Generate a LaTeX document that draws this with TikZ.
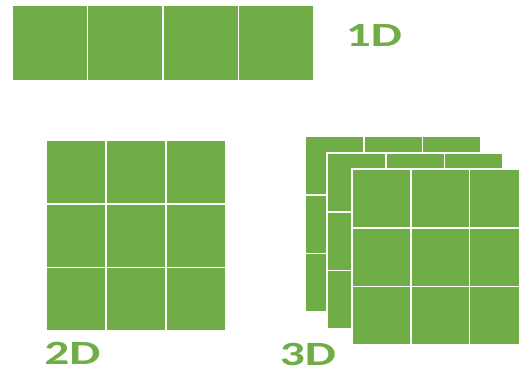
\documentclass[tikz,border=0pt]{standalone}
\usepackage{fontspec}
\newfontfamily\dimfont{Carlito}
\usetikzlibrary{positioning}
\definecolor{cellgreen}{HTML}{70AD47}

\tikzset{
  cell/.style={fill=cellgreen, draw=white, line width=1.6pt},
  dimlabel/.style={text=cellgreen, inner sep=0pt, xscale=1.45,
    font=\dimfont\bfseries\fontsize{34}{34}\selectfont}
}

\begin{document}
\begin{tikzpicture}[x=1pt,y=-1pt]
  \useasboundingbox (0,0) rectangle (519,378);
  \clip (0,0) rectangle (519,378);
  % 1D row
  \foreach \i in {0,...,3}
    \draw[cell] (12+75.5*\i,5) rectangle ++(75.5,76);
  \node[dimlabel] (lab1d) at (374,35) {1D};
  % 2D grid
  \foreach \i in {0,1,2}
    \foreach \j in {0,1,2}
      \draw[cell] (46+60*\i,140+63.7*\j) rectangle ++(60,63.7);
  \node[dimlabel] (lab2d) at (72.5,353) {2D};
  % 3D: three layers, back to front
  \foreach \x/\y in {305/136, 327/153, 352/169}
    \foreach \i in {0,1,2}
      \foreach \j in {0,1,2}
        \draw[cell] (\x+58.7*\i,\y+58.7*\j) rectangle ++(58.7,58.7);
  \node[dimlabel] (lab3d) at (308,354) {3D};
\end{tikzpicture}
\end{document}
